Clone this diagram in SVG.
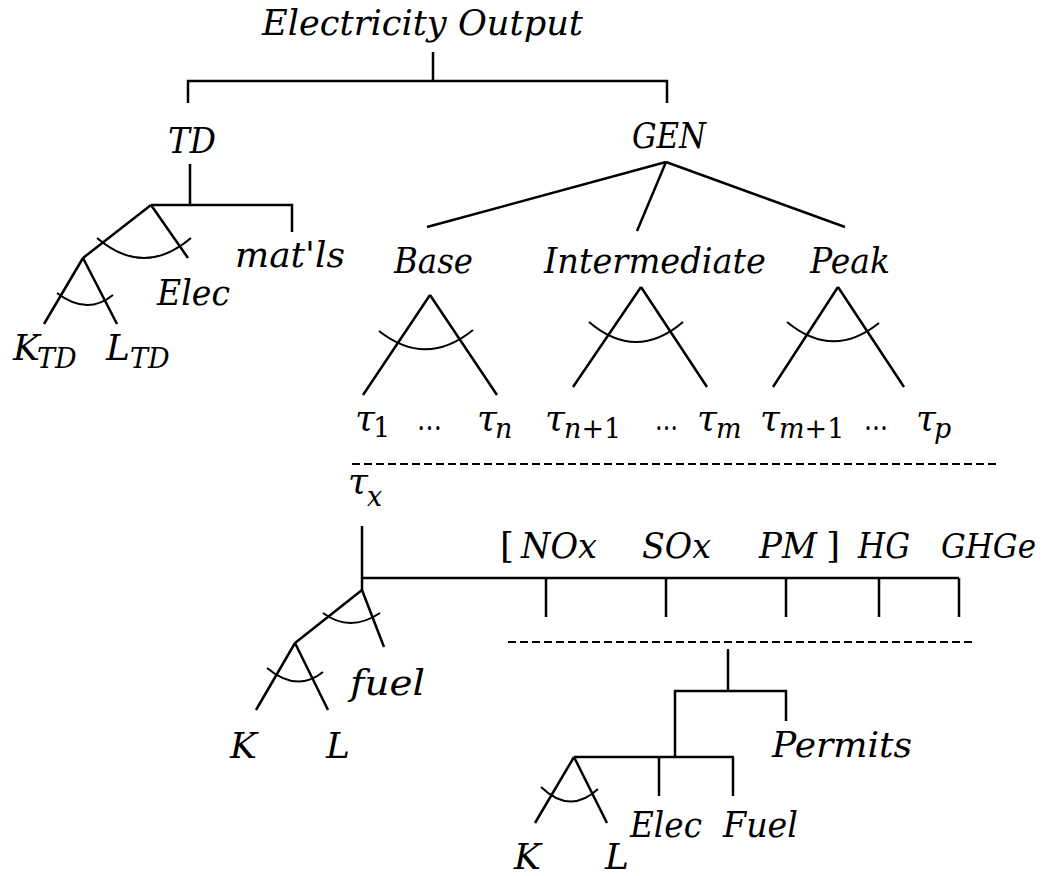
<svg xmlns="http://www.w3.org/2000/svg" width="1042" height="876" viewBox="0 0 1042 876">
<style>
.t{font-family:"DejaVu Serif",serif;font-style:italic;font-size:36px;fill:#000}
.s{font-size:27px}
.u{font-style:normal}
.e{font-style:normal;font-size:30px}
.ln{stroke:#000;stroke-width:2.5;fill:none}
.arc{stroke:#000;stroke-width:2;fill:none}
.dash{stroke:#000;stroke-width:2;fill:none;stroke-dasharray:8 4}
</style>
<rect width="1042" height="876" fill="#fff"/>
<g id="connectors">
<path class="ln" d="M433,52V81M188,103V81H667V103"/>
<path class="ln" d="M190,164V205M151,205H292V232M151,205L83,258M151,205L188,258M83,258L44,324M83,258L117,324"/>
<path class="arc" d="M97,238Q144,278 191,238M57,293Q87,316 113,295"/>
<path class="ln" d="M666,162L427,227M666,162L637,231M666,162L845,227"/>
<path class="ln" d="M430,295L363,395M430,295L497,395M641,287L573,387M641,287L707,387M838,287L773,387M838,287L904,387"/>
<path class="arc" d="M379,331Q426,368 473,330M589,322Q636,362 683,322M787,322Q833,360 879,323"/>
<path class="dash" d="M352,464H1000"/>
<path class="ln" d="M362,526V590M362,578H959M546,578V617M666,578V617M786,578V617M879,578V617M959,578V617"/>
<path class="ln" d="M362,590L295,643M362,590L384,647M295,643L256,710M295,643L328,710"/>
<path class="arc" d="M323,613Q350,633 380,613M267,668Q297,693 323,672"/>
<path class="dash" d="M508,642H972"/>
<path class="ln" d="M728,649V690M675,757V691H786V721M574,757H734M659,757V796M733,757V796M574,757L535,823M574,757L607,823"/>
<path class="arc" d="M541,787Q570,815 598,789"/>
</g>
<g id="n-output"><text class="t" x="262" y="35" textLength="321" lengthAdjust="spacingAndGlyphs">Electricity Output</text></g>
<g id="n-td"><text class="t" x="168" y="153" textLength="48" lengthAdjust="spacingAndGlyphs">TD</text></g>
<g id="n-gen"><text class="t" x="632" y="148" textLength="74" lengthAdjust="spacingAndGlyphs">GEN</text></g>
<g id="n-matls"><text class="t" x="235" y="267" textLength="110" lengthAdjust="spacingAndGlyphs">mat<tspan class="u">'</tspan>ls</text></g>
<g id="n-elec-td"><text class="t" x="157" y="305" textLength="73" lengthAdjust="spacingAndGlyphs">Elec</text></g>
<g id="n-ktd"><text class="t" x="13" y="360">K<tspan class="s" x="37" y="368">TD</tspan></text></g>
<g id="n-ltd"><text class="t" x="106" y="360">L<tspan class="s" x="130" y="368">TD</tspan></text></g>
<g id="n-base"><text class="t" x="394" y="273" textLength="79" lengthAdjust="spacingAndGlyphs">Base</text></g>
<g id="n-inter"><text class="t" x="544" y="273" textLength="222" lengthAdjust="spacingAndGlyphs">Intermediate</text></g>
<g id="n-peak"><text class="t" x="810" y="273" textLength="80" lengthAdjust="spacingAndGlyphs">Peak</text></g>
<g id="n-taus">
<text class="t" x="355" y="430">τ<tspan class="s u" x="373" y="437">1</tspan></text>
<text class="t e" x="417" y="430" textLength="25" lengthAdjust="spacingAndGlyphs">…</text>
<text class="t" x="477" y="430">τ<tspan class="s" x="495" y="438">n</tspan></text>
<text class="t" x="545" y="430">τ<tspan class="s" x="564" y="438">n</tspan><tspan class="s u">+1</tspan></text>
<text class="t e" x="655" y="430" textLength="23" lengthAdjust="spacingAndGlyphs">…</text>
<text class="t" x="697" y="430">τ<tspan class="s" x="716" y="438">m</tspan></text>
<text class="t" x="760" y="430">τ<tspan class="s" x="779" y="438">m</tspan><tspan class="s u">+1</tspan></text>
<text class="t e" x="864" y="430" textLength="24" lengthAdjust="spacingAndGlyphs">…</text>
<text class="t" x="916" y="430">τ<tspan class="s" x="934" y="438">p</tspan></text>
</g>
<g id="n-taux"><text class="t" x="348" y="493">τ<tspan class="s" x="367" y="506">x</tspan></text></g>
<g id="n-pollutants">
<text class="t u" x="500" y="558">[</text>
<text class="t" x="521" y="558" textLength="76" lengthAdjust="spacingAndGlyphs">NOx</text>
<text class="t" x="642" y="558" textLength="69" lengthAdjust="spacingAndGlyphs">SOx</text>
<text class="t" x="759" y="558" textLength="58" lengthAdjust="spacingAndGlyphs">PM</text>
<text class="t u" x="826" y="558">]</text>
<text class="t" x="858" y="558" textLength="52" lengthAdjust="spacingAndGlyphs">HG</text>
<text class="t" x="941" y="558" style="font-size:33px" textLength="95" lengthAdjust="spacingAndGlyphs">GHGe</text>
</g>
<g id="n-fuel"><text class="t" x="350" y="695" textLength="75" lengthAdjust="spacingAndGlyphs">fuel</text></g>
<g id="n-k"><text class="t" x="230" y="758">K</text></g>
<g id="n-l"><text class="t" x="326" y="758">L</text></g>
<g id="n-permits"><text class="t" x="772" y="757" textLength="140" lengthAdjust="spacingAndGlyphs">Permits</text></g>
<g id="n-elec2"><text class="t" x="630" y="837" textLength="72" lengthAdjust="spacingAndGlyphs">Elec</text></g>
<g id="n-fuel2"><text class="t" x="723" y="837" textLength="75" lengthAdjust="spacingAndGlyphs">Fuel</text></g>
<g id="n-k2"><text class="t" x="514" y="869">K</text></g>
<g id="n-l2"><text class="t" x="605" y="869">L</text></g>
</svg>
